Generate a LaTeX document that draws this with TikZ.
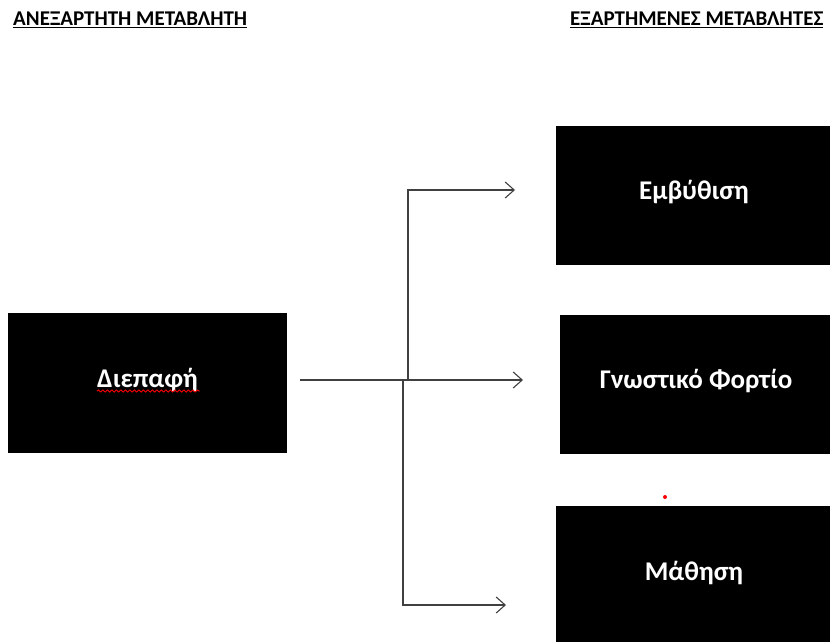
\documentclass[tikz,border=0pt]{standalone}
\usepackage{fontspec}
\setmainfont{Carlito}
\usetikzlibrary{arrows.meta,decorations.pathmorphing}

\tikzset{
  varbox/.style={fill=black, text=white, inner sep=0pt,
    text height=20pt, text depth=12pt,
    font=\fontsize{27}{32}\selectfont\bfseries},
  heading/.style={anchor=west, inner sep=0pt,
    font=\fontsize{21}{25}\selectfont\bfseries},
  link/.style={draw=black!75, line width=1.1pt},
  arrowlink/.style={link, -{Straight Barb[length=9pt,width=16pt,line width=1.1pt]}}
}

\begin{document}
\begin{tikzpicture}[x=1pt,y=-1pt]

\useasboundingbox (0,0) rectangle (830,642);

% HEADINGS
  \node[heading] (indep) at (13,20) {\underline{ΑΝΕΞΑΡΤΗΤΗ ΜΕΤΑΒΛΗΤΗ}};
  \node[heading] (dep)   at (570,20) {\underline{ΕΞΑΡΤΗΜΕΝΕΣ ΜΕΤΑΒΛΗΤΕΣ}};

% BOXES
  \node[varbox, minimum width=279pt, minimum height=140pt] (iface)     at (147.5,383) {Διεπαφή};
  \node[varbox, minimum width=276pt, minimum height=139pt] (immersion) at (694,195.5) {Εμβύθιση};
  \node[varbox, minimum width=272pt, minimum height=139pt] (load)      at (696,384.5) {Γνωστικό Φορτίο};
  \node[varbox, minimum width=276pt, minimum height=140pt] (learning)  at (694,576) {Μάθηση};

% spell-check mark and stray dot
  \draw[red, line width=0.9pt, decorate,
        decoration={snake, amplitude=1pt, segment length=4.5pt}] (97,391) -- (200,391);
  \fill[red] (665,497) circle (2pt);

% CONNECTORS
  \coordinate (start)   at (300,380);
  \coordinate (jtop)    at (408,380);
  \coordinate (jbot)    at (403,380);
  \coordinate (tiptop)  at (515,190);
  \coordinate (tipmid)  at (523,380);
  \coordinate (tipbot)  at (506,605);

  \draw[arrowlink] (start) -- (tipmid);
  \draw[arrowlink] (jtop) |- (tiptop);
  \draw[arrowlink] (jbot) |- (tipbot);

\end{tikzpicture}
\end{document}
